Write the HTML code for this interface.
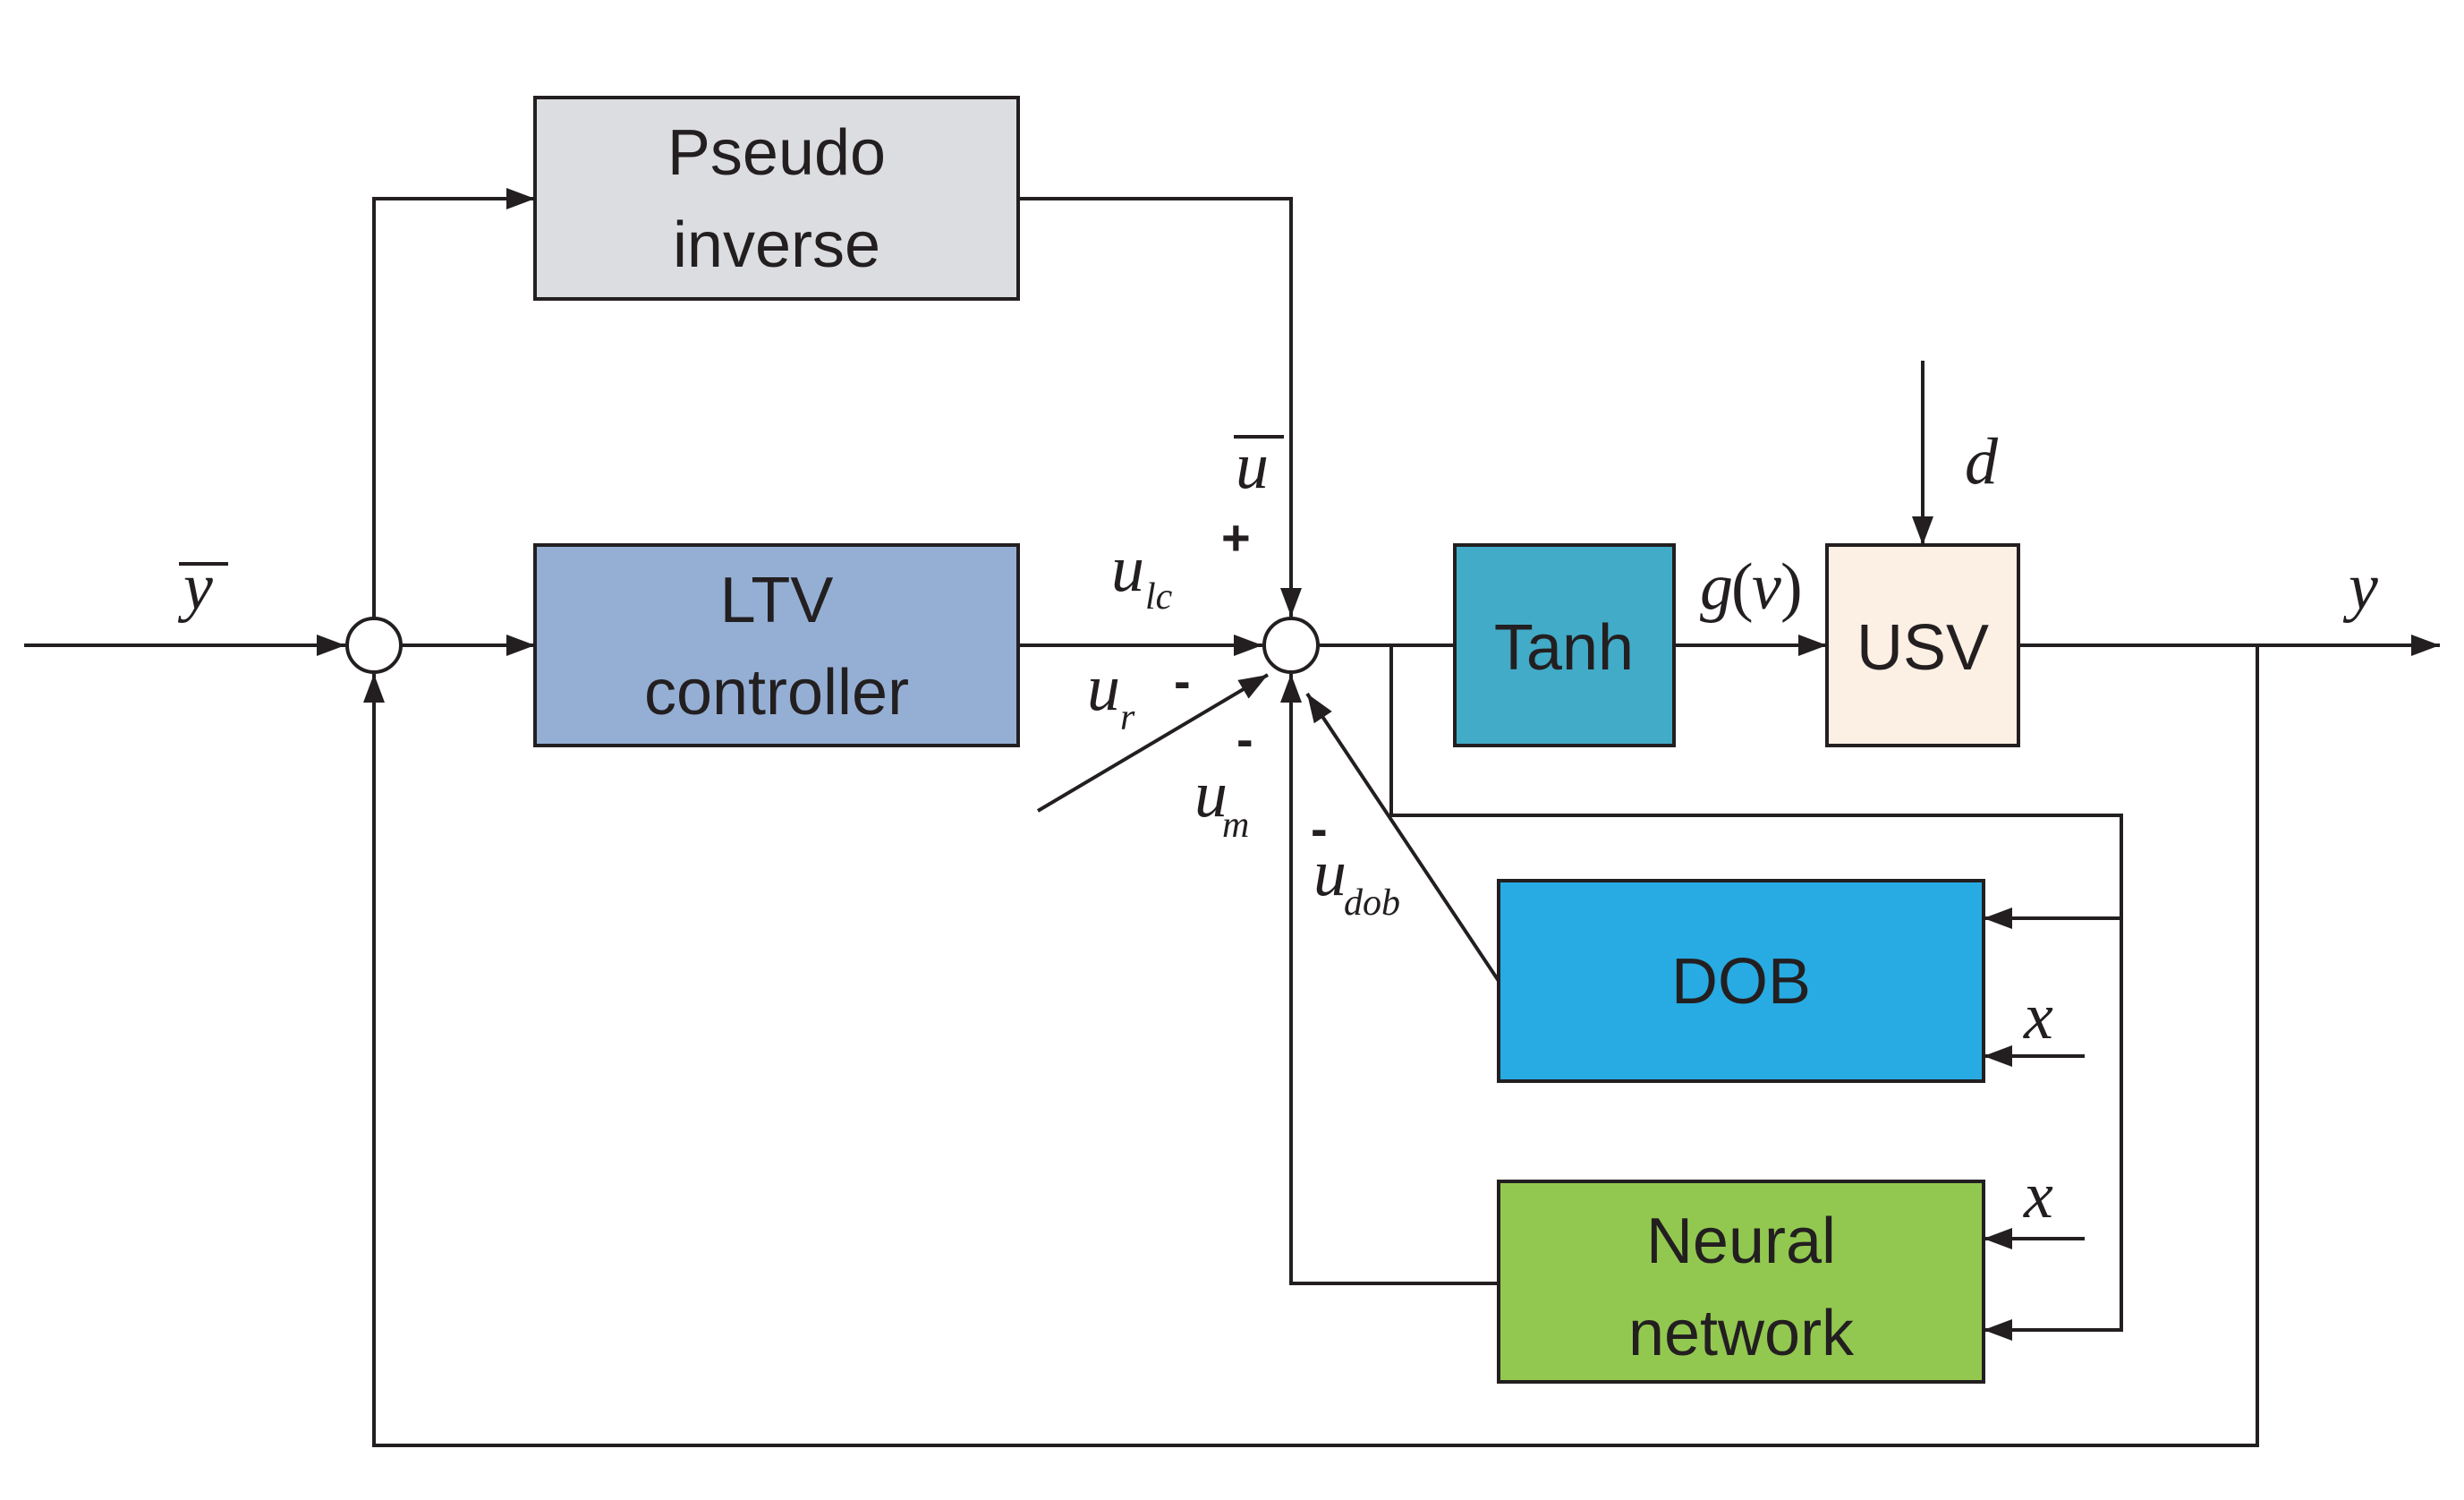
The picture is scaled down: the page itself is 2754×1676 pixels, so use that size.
<!DOCTYPE html>
<html><head><meta charset="utf-8"><style>html,body{margin:0;padding:0;background:#fff}</style></head><body>
<svg width="2754" height="1671" viewBox="0 0 2754 1671" xmlns="http://www.w3.org/2000/svg">
<defs><marker id="a" markerWidth="32" markerHeight="24" refX="32" refY="12" orient="auto" markerUnits="userSpaceOnUse" viewBox="0 0 32 24"><path d="M0,0L32,12L0,24z" fill="#231f20"/></marker></defs>
<style>
.l{stroke:#231f20;stroke-width:4;fill:none}
.b{stroke:#231f20;stroke-width:4}
.t{font-family:"Liberation Sans",sans-serif;font-size:72px;fill:#231f20;text-anchor:middle}
.m{font-family:"Liberation Serif",serif;font-style:italic;font-size:74px;fill:#231f20}
.s{font-family:"Liberation Serif",serif;font-style:italic;font-size:42px;fill:#231f20}
.p{font-family:"Liberation Sans",sans-serif;font-size:56px;fill:#231f20;font-weight:bold}
</style>
<g>
<rect class="b" x="598" y="109" width="540" height="225" fill="#dcdde0"/>
<rect class="b" x="598" y="609" width="540" height="224" fill="#95afd4"/>
<rect class="b" x="1626" y="609" width="245" height="224" fill="#42abc8"/>
<rect class="b" x="2042" y="609" width="214" height="224" fill="#fcefe4"/>
<rect class="b" x="1675" y="984" width="542" height="224" fill="#27abe2"/>
<rect class="b" x="1675" y="1320" width="542" height="224" fill="#92c850"/>
<circle class="l" cx="418" cy="721" r="30"/>
<circle class="l" cx="1443" cy="721" r="30"/>
<path class="l" d="M27,721H386" marker-end="url(#a)"/>
<path class="l" d="M418,691V222H598" marker-end="url(#a)"/>
<path class="l" d="M448,721H598" marker-end="url(#a)"/>
<path class="l" d="M1138,222H1443V689" marker-end="url(#a)"/>
<path class="l" d="M1138,721H1411" marker-end="url(#a)"/>
<path class="l" d="M1160,906L1417,754" marker-end="url(#a)"/>
<path class="l" d="M1473,721H1626"/>
<path class="l" d="M1871,721H2042" marker-end="url(#a)"/>
<path class="l" d="M2149,403V609" marker-end="url(#a)"/>
<path class="l" d="M2256,721H2727" marker-end="url(#a)"/>
<path class="l" d="M2523,721V1615H418V753" marker-end="url(#a)"/>
<path class="l" d="M1555,721V911H2371V1486H2217" marker-end="url(#a)"/>
<path class="l" d="M2371,1026H2217" marker-end="url(#a)"/>
<path class="l" d="M2330,1180H2217" marker-end="url(#a)"/>
<path class="l" d="M2330,1384H2217" marker-end="url(#a)"/>
<path class="l" d="M1675,1434H1443V753" marker-end="url(#a)"/>
<path class="l" d="M1675,1096L1461,775" marker-end="url(#a)"/>
<text class="t" x="868" y="195">Pseudo</text>
<text class="t" x="868" y="298">inverse</text>
<text class="t" x="868" y="695">LTV</text>
<text class="t" x="868" y="798">controller</text>
<text class="t" x="1748" y="748">Tanh</text>
<text class="t" x="2149" y="748">USV</text>
<text class="t" x="1946" y="1121">DOB</text>
<text class="t" x="1946" y="1411">Neural</text>
<text class="t" x="1946" y="1514">network</text>
<text class="m" x="205" y="680">y</text><path class="l" d="M200,630H255"/>
<text class="m" x="1381" y="545">u</text><path class="l" d="M1379,488H1435"/>
<text class="p" x="1365" y="620">+</text>
<text class="m" x="1242" y="660">u</text><text class="s" x="1280" y="680">lc</text>
<text class="m" x="1215" y="793">u</text><text class="s" x="1252" y="815">r</text>
<text class="p" x="1312" y="780">-</text>
<text class="p" x="1382" y="845">-</text>
<text class="m" x="1335" y="912">u</text><text class="s" x="1366" y="935">m</text>
<text class="p" x="1465" y="945">-</text>
<text class="m" x="1468" y="1000">u</text><text class="s" x="1502" y="1022">dob</text>
<text class="m" x="1900" y="680">g</text><text class="m" x="1935" y="680" style="font-style:normal">(</text><text class="m" x="1958" y="680">v</text><text class="m" x="1990" y="680" style="font-style:normal">)</text>
<text class="m" x="2196" y="540">d</text>
<text class="m" x="2625" y="680">y</text>
<text class="m" x="2262" y="1160">x</text>
<text class="m" x="2262" y="1360">x</text>
</g>
</svg>
</body></html>
